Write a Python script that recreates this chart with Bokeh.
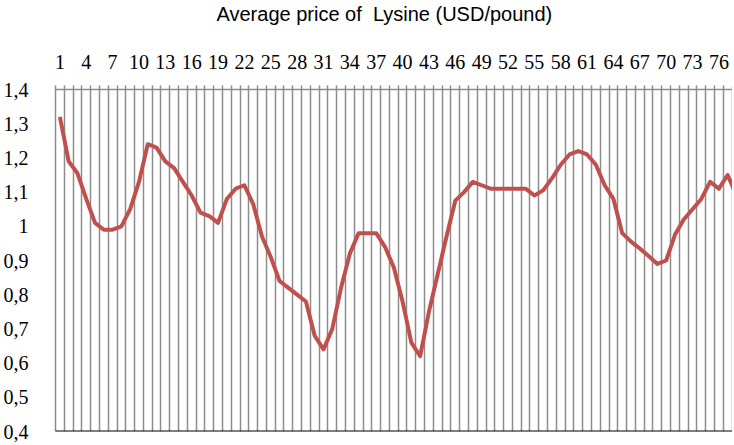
from bokeh.plotting import figure
from bokeh.models import FixedTicker, Range1d, Span, Title
from bokeh.embed import file_html
from bokeh.resources import INLINE

# ---- data ----
months = list(range(1, 79))
price = [1.32, 1.19, 1.155, 1.08, 1.01, 0.99, 0.99, 1.00, 1.05, 1.13,
         1.24, 1.23, 1.19, 1.17, 1.13, 1.09, 1.04, 1.03, 1.01, 1.08,
         1.11, 1.12, 1.065, 0.97, 0.91, 0.84, 0.82, 0.80, 0.78, 0.68,
         0.64, 0.70, 0.82, 0.92, 0.98, 0.98, 0.98, 0.94, 0.88, 0.78,
         0.66, 0.62, 0.75, 0.86, 0.97, 1.075, 1.10, 1.13, 1.12, 1.11,
         1.11, 1.11, 1.11, 1.11, 1.09, 1.105, 1.14, 1.18, 1.21, 1.22,
         1.21, 1.18, 1.12, 1.08, 0.98, 0.955, 0.935, 0.913, 0.89, 0.90,
         0.975, 1.02, 1.05, 1.08, 1.13, 1.11, 1.15, 1.09]
x_label_ticks = [1, 4, 7, 10, 13, 16, 19, 22, 25, 28, 31, 34, 37, 40, 43, 46,
                 49, 52, 55, 58, 61, 64, 67, 70, 73, 76]
y_ticks = [0.4, 0.5, 0.6, 0.7, 0.8, 0.9, 1.0, 1.1, 1.2, 1.3, 1.4]
y_tick_labels = ["0,4", "0,5", "0,6", "0,7", "0,8", "0,9", "1", "1,1", "1,2", "1,3", "1,4"]
title_text = "Average price of\u00a0 Lysine (USD/pound)"

boundaries = [m - 0.5 for m in months]

GRID = "#8c8c8c"
LABEL_FONT = "Liberation Sans Narrow"

p = figure(frame_width=677, frame_height=342,
           x_range=Range1d(0.5, 77.55), y_range=Range1d(0.4, 1.4),
           x_axis_location="above", y_axis_location="left",
           output_backend="svg", toolbar_location=None,
           min_border_left=49, min_border_right=0,
           min_border_bottom=14, min_border_top=89)

p.title.text = title_text
p.title.align = "left"
p.title.vertical_align = "top"
p.title.offset = 161
p.title.standoff = 4
p.title.text_font = "Liberation Sans"
p.title.text_font_size = "20px"
p.title.text_font_style = "normal"
p.title.text_color = "black"

# empty spacer between the top axis and the title
p.add_layout(Title(text=" ", text_font_size="1px", standoff=20), "above")

p.outline_line_color = None
p.background_fill_color = "white"
p.border_fill_color = "white"

# top axis: labels at category centres, tick marks at category boundaries
xa = p.xaxis[0]
xa.ticker = FixedTicker(ticks=x_label_ticks, minor_ticks=boundaries)
xa.major_tick_line_color = None
xa.minor_tick_line_color = GRID
xa.minor_tick_line_width = 1.5
xa.minor_tick_out = 4
xa.minor_tick_in = 0
xa.axis_line_color = GRID
xa.axis_line_width = 1.5
xa.major_label_standoff = 15
xa.major_label_text_font = LABEL_FONT
xa.major_label_text_font_size = "20px"
xa.major_label_text_color = "black"

ya = p.yaxis[0]
ya.ticker = FixedTicker(ticks=y_ticks)
ya.major_label_overrides = dict(zip(y_ticks, y_tick_labels))
ya.major_tick_line_color = None
ya.minor_tick_line_color = None
ya.axis_line_color = GRID
ya.axis_line_width = 1.5
ya.major_label_standoff = 21
ya.major_label_text_font = LABEL_FONT
ya.major_label_text_font_size = "20px"
ya.major_label_text_color = "black"

p.xgrid.ticker = FixedTicker(ticks=boundaries)
p.xgrid.grid_line_color = GRID
p.xgrid.grid_line_width = 1.5
p.ygrid.visible = False

p.add_layout(Span(location=0.4, dimension="width", line_color="black", line_width=2))

p.line(months, price, line_color="#C0504D", line_width=4, line_join="round")

open("out.html", "w").write(file_html(p, INLINE))
